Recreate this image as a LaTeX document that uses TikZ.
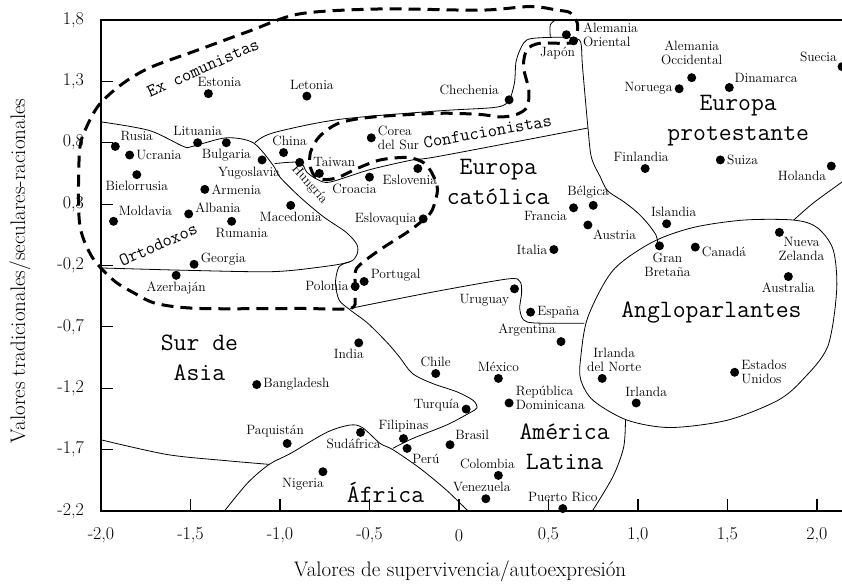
\documentclass[tikz,border=0pt]{standalone}
\usepackage{fontspec}
\usepackage{tikz}

\begin{document}
\begin{tikzpicture}[x=179pt,y=122.75pt,
dot/.style={circle,fill=black,inner sep=0pt,minimum size=9pt},
pais/.style={font=\fontsize{13.5}{14}\selectfont},
every label/.style={pais,inner sep=1.8pt},
region/.style={font=\fontsize{25}{30}\selectfont\ttfamily,align=center},
grupo/.style={font=\fontsize{18}{18}\selectfont\ttfamily},
eje/.style={font=\fontsize{18}{18}\selectfont,inner sep=0pt},
titulo/.style={font=\fontsize{21}{22}\selectfont},
frontera/.style={line width=0.8pt},
excom/.style={line width=3pt,dash pattern=on 12pt off 7pt}]
\useasboundingbox (-2.5642,-2.8110) rectangle (2.1397,1.9629);

% ejes
\draw[line width=1.2pt] (2.14,1.8)--(-2,1.8)--(-2,-2.2)--(2.14,-2.2);
\foreach \y in {1.3,0.8,0.3,-0.2,-0.7,-1.2,-1.7} \draw[line width=1.2pt] (-2,\y)--(-1.933,\y);
\foreach \x in {-1.5,-1,-0.5,0,0.5,1,1.5,2} \draw[line width=1.2pt] (\x,-2.2)--(\x,-2.102);
\foreach \y/\t [count=\i] in {1.8/{1,8},1.3/{1,3},0.8/{0,8},0.3/{0,3},-0.2/{-0,2},-0.7/{-0,7},-1.2/{-1,2},-1.7/{-1,7},-2.2/{-2,2}}
  \node[eje,anchor=east] (ty\i) at (-2.095,\y) {\t};
\foreach \x/\t [count=\i] in {-2/{-2,0},-1.5/{-1,5},-1/{-1,0},-0.5/{-0,5},0/0,0.5/{0,5},1/{1,0},1.5/{1,5},2/{2,0}}
  \node[eje] (tx\i) at (\x,-2.40) {\t};
\node[titulo,rotate=90] (ejey) at (-2.453,-0.245) {Valores tradicionales/seculares-racionales};
\node[titulo] (ejex) at (0.006,-2.689) {Valores de supervivencia/autoexpresión};

% fronteras
\draw[frontera] plot[smooth] coordinates {(-2.0,0.97) (-1.73,0.90) (-1.54,0.77) (-1.49,0.77) (-1.30,0.84) (-1.15,0.80) (-1.04,0.62) (-1.0,0.52) (-0.89,0.36) (-0.76,0.20) (-0.63,0.07) (-0.57,-0.03) (-0.57,-0.11) (-0.61,-0.17) (-0.76,-0.21) (-1.04,-0.25) (-1.5,-0.24) (-2.0,-0.22)};
\draw[frontera] plot[smooth] coordinates {(-1.14,0.80) (-1.04,0.88) (-0.67,0.99) (-0.11,1.06) (0.21,1.09) (0.28,1.15) (0.31,1.29) (0.32,1.47) (0.36,1.61) (0.41,1.65) (0.58,1.66) (0.64,1.65) (0.68,1.62) (0.69,1.42) (0.72,0.93) (0.74,0.68) (0.79,0.52) (0.83,0.41) (0.92,0.32) (0.99,0.24) (1.05,0.15) (1.10,0.05) (1.11,-0.01)};
\draw[frontera] plot[smooth] coordinates {(0.51,1.66) (0.51,1.76) (0.54,1.8)};
\draw[frontera] plot[smooth] coordinates {(-1.03,0.63) (-0.89,0.64) (-0.85,0.56) (-0.79,0.50) (-0.72,0.48) (-0.50,0.58) (-0.26,0.66) (-0.11,0.69) (0.72,0.92)};
\draw[frontera] plot[smooth] coordinates {(-0.61,-0.17) (-0.67,-0.21) (-0.69,-0.34) (-0.67,-0.48) (-0.61,-0.56) (-0.51,-0.67) (-0.40,-0.83) (-0.33,-0.95) (-0.26,-1.08) (-0.15,-1.16) (-0.01,-1.23) (0.08,-1.30) (0.10,-1.36) (0.06,-1.40) (-0.07,-1.50) (-0.26,-1.61) (-0.37,-1.69)};
\draw[frontera] plot[smooth] coordinates {(-0.61,-0.55) (-0.16,-0.42) (0.27,-0.31) (0.34,-0.33) (0.35,-0.42) (0.34,-0.56) (0.38,-0.66) (0.58,-0.67) (0.70,-0.67)};
\draw[frontera] plot[smooth] coordinates {(-2.0,-1.62) (-1.63,-1.74) (-1.30,-1.79) (-1.06,-1.82)};
\draw[frontera] plot[smooth] coordinates {(-1.31,-2.2) (-1.18,-1.97) (-1.06,-1.82) (-0.94,-1.73) (-0.74,-1.56) (-0.61,-1.50) (-0.54,-1.52) (-0.44,-1.65) (-0.37,-1.70) (-0.22,-1.85) (-0.07,-2.03) (0.05,-2.2)};
\draw[frontera] plot[smooth cycle] coordinates {(0.72,-0.62) (0.68,-0.95) (0.68,-1.13) (0.75,-1.30) (0.94,-1.46) (1.18,-1.52) (1.50,-1.46) (1.78,-1.30) (1.92,-1.13) (2.06,-0.86) (2.11,-0.40) (2.09,-0.07) (2.0,0.11) (1.87,0.17) (1.59,0.17) (1.31,0.11) (1.08,-0.01) (0.86,-0.24)};
\draw[frontera] plot[smooth] coordinates {(0.93,-1.46) (0.92,-1.68) (0.86,-1.92) (0.745,-2.2)};
\draw[frontera] plot[smooth] coordinates {(1.87,0.17) (1.98,0.31) (2.14,0.48)};

% ex comunistas
\draw[excom] plot[smooth cycle] coordinates {(-0.58,-0.46) (-0.58,-0.26) (-0.55,-0.19) (-0.44,-0.07) (-0.29,0.07) (-0.20,0.17) (-0.15,0.25) (-0.12,0.42) (-0.15,0.55) (-0.20,0.64) (-0.29,0.68) (-0.44,0.66) (-0.57,0.59) (-0.67,0.52) (-0.74,0.50) (-0.80,0.52) (-0.83,0.60) (-0.83,0.72) (-0.78,0.85) (-0.67,0.96) (-0.48,1.01) (-0.11,1.04) (0.12,1.03) (0.23,1.01) (0.32,1.03) (0.38,1.09) (0.39,1.23) (0.36,1.42) (0.38,1.56) (0.45,1.61) (0.58,1.61) (0.64,1.62) (0.66,1.70) (0.66,1.78) (0.62,1.86) (0.55,1.88) (0.40,1.91) (0.12,1.88) (-0.44,1.89) (-0.89,1.85) (-1.17,1.71) (-1.45,1.56) (-1.73,1.41) (-1.89,1.27) (-2.01,1.11) (-2.08,0.93) (-2.12,0.73) (-2.12,0.15) (-2.05,-0.13) (-1.93,-0.32) (-1.82,-0.42) (-1.69,-0.51) (-1.45,-0.55) (-0.89,-0.55) (-0.61,-0.55)};

% paises
\node[dot,label={[xshift=11pt]above:Estonia}] (est) at (-1.40,1.20) {};
\node[dot,label={[xshift=5pt]above:Letonia}] (let) at (-0.85,1.18) {};
\node[dot,label={above right:Rusia}] (rus) at (-1.92,0.77) {};
\node[dot,label={right:Ucrania}] (ucr) at (-1.84,0.70) {};
\node[dot,label={below:Bielorrusia}] (bie) at (-1.80,0.54) {};
\node[dot,label={above:Lituania}] (lit) at (-1.46,0.80) {};
\node[dot,label={below:Bulgaria}] (bul) at (-1.30,0.80) {};
\node[dot,label={[xshift=-13pt]below:Yugoslavia}] (yug) at (-1.10,0.66) {};
\node[dot,label={right:Armenia}] (arm) at (-1.42,0.42) {};
\node[dot,label={[xshift=6pt]above:China}] (chn) at (-0.98,0.72) {};
\node[dot] (hun) at (-0.89,0.64) {};
\node[dot,label={[xshift=15pt]above:Taiwan}] (twn) at (-0.78,0.55) {};
\node[dot,label={[align=left]right:Corea\\del Sur}] (kor) at (-0.49,0.84) {};
\node[dot,label={[xshift=-15pt]below:Croacia}] (cro) at (-0.50,0.52) {};
\node[dot,label={[xshift=-8pt]below:Eslovenia}] (slv) at (-0.23,0.59) {};
\node[dot,label={above right:Moldavia}] (mol) at (-1.93,0.16) {};
\node[dot,label={[yshift=6pt]right:Albania}] (alb) at (-1.51,0.22) {};
\node[dot,label={[xshift=10pt]below:Rumania}] (rum) at (-1.27,0.16) {};
\node[dot,label={below:Macedonia}] (mac) at (-0.94,0.29) {};
\node[dot,label={[yshift=5pt]right:Georgia}] (geo) at (-1.48,-0.19) {};
\node[dot,label={below:Azerbaján}] (aze) at (-1.58,-0.28) {};
\node[dot,label={left:Eslovaquia}] (svk) at (-0.20,0.18) {};
\node[dot,label={[yshift=6pt]right:Portugal}] (por) at (-0.53,-0.33) {};
\node[dot,label={left:Polonia}] (pol) at (-0.58,-0.37) {};
\node[dot,label={[xshift=-5pt]above left:Chechenia}] (che) at (0.28,1.15) {};
\node[dot,label={[xshift=-16pt]below:Japón}] (jap) at (0.64,1.63) {};
\node[dot,label={[align=left,xshift=10pt]right:Alemania\\Oriental}] (ddr) at (0.60,1.68) {};
\node[dot,label={[align=center,yshift=6pt]above:Alemania\\Occidental}] (brd) at (1.30,1.33) {};
\node[dot,label={left:Noruega}] (nor) at (1.23,1.24) {};
\node[dot,label={above right:Dinamarca}] (din) at (1.51,1.25) {};
\node[dot,label={above left:Suecia}] (sue) at (2.14,1.42) {};
\node[dot,label={[xshift=-4pt]above:Finlandia}] (fin) at (1.04,0.59) {};
\node[dot,label={right:Suiza}] (sui) at (1.46,0.66) {};
\node[dot,label={below left:Holanda}] (hol) at (2.08,0.61) {};
\node[dot,label={[xshift=-5pt]above:Bélgica}] (bel) at (0.75,0.29) {};
\node[dot,label={[yshift=-8pt]left:Francia}] (fra) at (0.64,0.27) {};
\node[dot,label={below right:Austria}] (aus) at (0.72,0.13) {};
\node[dot,label={left:Italia}] (ita) at (0.53,-0.07) {};
\node[dot,label={[xshift=7pt]above:Islandia}] (isl) at (1.16,0.14) {};
\node[dot,label={[align=center,xshift=8pt]below:Gran\\Bretaña}] (gbr) at (1.12,-0.04) {};
\node[dot,label={[yshift=-5pt]right:Canadá}] (can) at (1.32,-0.05) {};
\node[dot,label={[align=center,xshift=-6pt]below right:Nueva\\Zelanda}] (nze) at (1.79,0.07) {};
\node[dot,label={below:Australia}] (aul) at (1.84,-0.29) {};
\node[dot,label={[align=center,xshift=12pt]above:Irlanda\\del Norte}] (irn) at (0.80,-1.12) {};
\node[dot,label={[align=left]right:Estados\\Unidos}] (usa) at (1.54,-1.07) {};
\node[dot,label={[xshift=10pt]above:Irlanda}] (irl) at (0.99,-1.32) {};
\node[dot,label={below left:Uruguay}] (uru) at (0.31,-0.39) {};
\node[dot,label={right:España}] (esp) at (0.40,-0.58) {};
\node[dot,label={above left:Argentina}] (arg) at (0.57,-0.82) {};
\node[dot,label={[xshift=-10pt]below:India}] (ind) at (-0.56,-0.83) {};
\node[dot,label={above:Chile}] (chi) at (-0.13,-1.08) {};
\node[dot,label={above:México}] (mex) at (0.22,-1.12) {};
\node[dot,label={right:Bangladesh}] (ban) at (-1.13,-1.17) {};
\node[dot,label={[yshift=4pt]left:Turquía}] (tur) at (0.04,-1.37) {};
\node[dot,label={[align=left,yshift=5pt]right:República\\Dominicana}] (dom) at (0.28,-1.32) {};
\node[dot,label={[xshift=-12pt]above:Paquistán}] (paq) at (-0.96,-1.65) {};
\node[dot,label={[xshift=-7pt]below:Sudáfrica}] (saf) at (-0.55,-1.56) {};
\node[dot,label={above:Filipinas}] (fil) at (-0.31,-1.61) {};
\node[dot,label={below right:Perú}] (per) at (-0.29,-1.69) {};
\node[dot,label={above right:Brasil}] (bra) at (-0.05,-1.66) {};
\node[dot,label={[xshift=-11pt]above:Colombia}] (col) at (0.22,-1.91) {};
\node[dot,label={[xshift=-4pt]above:Venezuela}] (ven) at (0.15,-2.10) {};
\node[dot,label={[xshift=-20pt]below:Nigeria}] (nig) at (-0.76,-1.88) {};
\node[dot,label={above:Puerto Rico}] (pri) at (0.58,-2.18) {};

% regiones
\node[region] (protes) at (1.56,0.98) {Europa\\protestante};
\node[region] (catol) at (0.22,0.48) {Europa\\católica};
\node[region] (surasia) at (-1.45,-0.95) {Sur de\\Asia};
\node[region] (anglo) at (1.41,-0.58) {Angloparlantes};
\node[region] (amlat) at (0.59,-1.68) {América\\Latina};
\node[region] (afr) at (-0.41,-2.045) {África};
\node[grupo,rotate=24] (excomlbl) at (-1.43,1.41) {Ex comunistas};
\node[grupo,rotate=10] (confu) at (0.16,0.89) {Confucionistas};
\node[grupo,rotate=24] (orto) at (-1.68,-0.03) {Ortodoxos};
\node[pais,rotate=-48] (hunlbl) at (-0.835,0.46) {Hungría};
\end{tikzpicture}
\end{document}
